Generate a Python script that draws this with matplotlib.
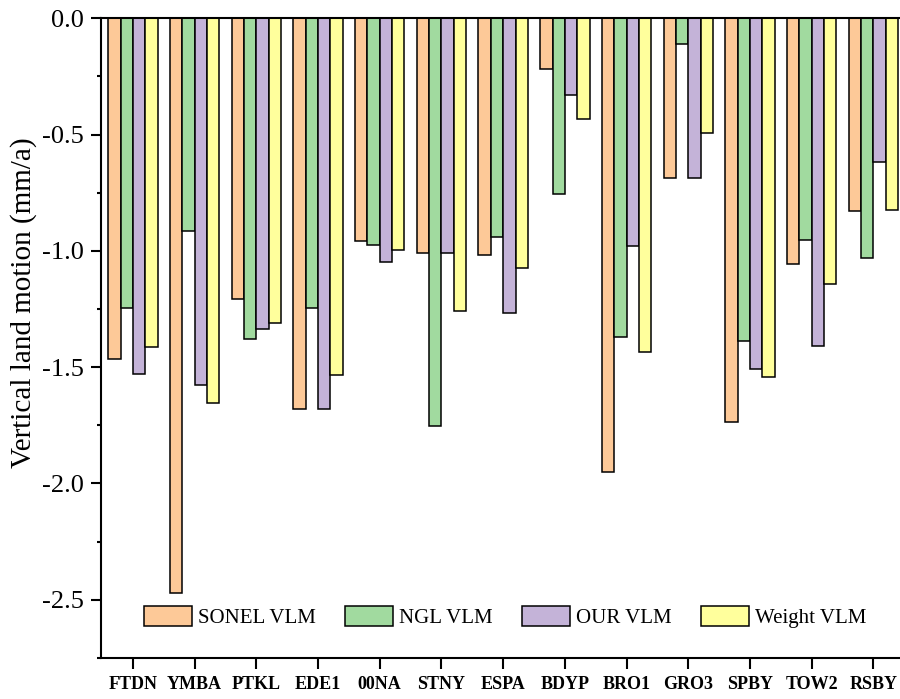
import matplotlib
matplotlib.use("Agg")
import matplotlib.pyplot as plt
from matplotlib.ticker import MultipleLocator
import numpy as np

plt.rcParams['font.family'] = ['Liberation Serif', 'DejaVu Serif']

# Data (mm/a)
stations = ["FTDN", "YMBA", "PTKL", "EDE1", "00NA", "STNY", "ESPA",
            "BDYP", "BRO1", "GRO3", "SPBY", "TOW2", "RSBY"]
sonel = [-1.465, -2.47, -1.208, -1.68, -0.956, -1.01, -1.018,
         -0.219, -1.95, -0.688, -1.737, -1.058, -0.827]
ngl = [-1.246, -0.915, -1.379, -1.246, -0.976, -1.753, -0.941,
       -0.756, -1.369, -0.112, -1.386, -0.955, -1.031]
ours = [-1.53, -1.577, -1.337, -1.68, -1.050, -1.01, -1.268,
        -0.329, -0.978, -0.688, -1.508, -1.408, -0.619]
weight = [-1.413, -1.655, -1.31, -1.535, -0.995, -1.258, -1.074,
          -0.434, -1.434, -0.495, -1.543, -1.141, -0.826]

series = [("SONEL VLM", sonel, "#fdc998"),
          ("NGL VLM", ngl, "#a1da9f"),
          ("OUR VLM", ours, "#c4b3d8"),
          ("Weight VLM", weight, "#ffff9c")]

fig = plt.figure(figsize=(9, 6.99), dpi=100)
ax = fig.add_axes([0.112, 0.0587, 0.888, 0.9153])

x = np.arange(len(stations))
w = 0.2
for k, (name, vals, col) in enumerate(series):
    ax.bar(x + (k - 1.5) * w, vals, width=w, color=col, edgecolor='black',
           linewidth=1.1, label=name)

ax.set_xlim(-0.52, 12.43)
ax.set_ylim(-2.75, 0)
ax.set_xticks(x)
ax.set_xticklabels(stations, fontsize=13, fontweight='bold')
ax.yaxis.set_major_locator(MultipleLocator(0.5))
ax.yaxis.set_minor_locator(MultipleLocator(0.25))
ax.set_yticklabels([f"{v:.1f}" for v in ax.get_yticks()], fontsize=19)
ax.set_ylabel("Vertical land motion (mm/a)", fontsize=21)
ax.yaxis.set_label_coords(-0.08, 0.555)
ax.spines['right'].set_visible(False)
for s in ['left', 'bottom', 'top']:
    ax.spines[s].set_linewidth(1.5)
ax.tick_params(axis='x', which='major', direction='out', length=8, width=1.5, pad=5)
ax.tick_params(axis='y', which='major', direction='out', length=7.5, width=1.5, pad=5)
ax.tick_params(axis='y', which='minor', direction='out', length=3, width=1.5)

ax.legend(loc='center left', bbox_to_anchor=(0.054, 0.064), ncol=4, frameon=False,
          fontsize=15, handlelength=2.3, handleheight=1.1, handletextpad=0.3,
          columnspacing=1.4, borderaxespad=0, borderpad=0)

fig.savefig("out.png", dpi=100)
